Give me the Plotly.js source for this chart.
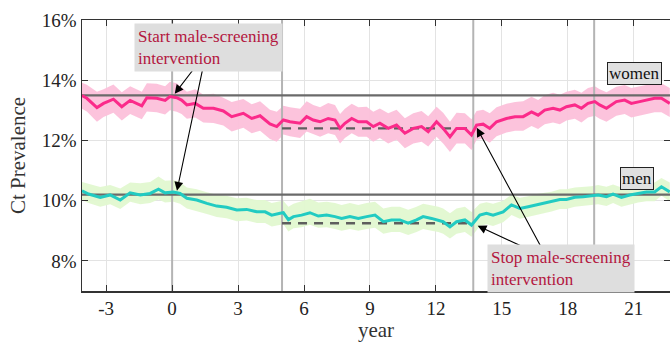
<!DOCTYPE html>
<html><head><meta charset="utf-8">
<script src="https://cdn.plot.ly/plotly-3.0.1.min.js"></script>
<style>html,body{margin:0;padding:0;background:#fff}#chart{width:670px;height:342px}</style>
</head><body><div id="chart"></div>
<script>
// ---- data ----
const womenX = [-4.1,-3.88,-3.42,-3.12,-2.67,-2.29,-1.91,-1.38,-1.15,-0.7,-0.32,-0.1,0.21,0.43,0.67,1.05,1.42,1.88,2.33,2.71,3.24,3.62,4.0,4.45,4.76,5.06,5.36,5.82,6.12,6.42,6.73,7.1,7.41,7.64,7.86,8.17,8.47,8.85,9.15,9.45,9.83,10.21,10.59,10.97,11.35,11.65,12.03,12.33,12.64,12.94,13.32,13.62,13.85,14.15,14.45,14.76,15.21,15.6,15.97,16.35,16.65,16.95,17.33,17.64,17.94,18.32,18.62,18.92,19.23,19.45,19.76,20.21,20.59,20.89,21.27,21.58,21.95,22.26,22.64];
const womenY = [13.49,13.40,13.09,13.23,13.37,13.12,13.33,13.15,13.42,13.40,13.33,13.46,13.42,13.34,13.18,13.23,13.07,13.07,12.98,12.79,12.90,12.73,12.82,12.55,12.46,12.68,12.62,12.57,12.79,12.68,12.62,12.73,12.68,12.40,12.57,12.73,12.62,12.62,12.46,12.57,12.40,12.51,12.24,12.40,12.46,12.29,12.62,12.40,12.12,12.40,12.40,12.18,12.51,12.54,12.40,12.62,12.73,12.79,12.79,12.95,12.84,13.01,13.07,13.01,13.12,13.18,13.07,13.23,13.29,13.18,13.07,13.29,13.34,13.23,13.29,13.34,13.40,13.40,13.23];
const womenHi = [13.92,13.85,13.62,13.70,13.86,13.60,13.80,13.62,13.90,13.88,13.80,13.95,13.90,13.78,13.62,13.70,13.52,13.55,13.42,13.28,13.38,13.20,13.30,13.02,12.95,13.15,13.10,13.05,13.30,13.18,13.10,13.24,13.18,12.88,13.05,13.22,13.10,13.12,12.95,13.06,12.90,13.02,12.74,12.90,12.98,12.80,13.12,12.92,12.62,12.92,12.90,12.70,12.98,13.02,12.90,13.10,13.22,13.28,13.30,13.45,13.34,13.50,13.58,13.52,13.62,13.68,13.58,13.74,13.80,13.70,13.60,13.78,13.84,13.74,13.80,13.84,13.90,13.90,13.74];
const womenLo = [13.05,12.96,12.62,12.78,12.92,12.66,12.88,12.70,12.96,12.94,12.86,13.00,12.95,12.88,12.72,12.76,12.60,12.58,12.50,12.30,12.42,12.24,12.32,12.05,11.96,12.20,12.14,12.08,12.30,12.20,12.12,12.24,12.18,11.90,12.08,12.24,12.12,12.12,11.96,12.08,11.90,12.02,11.74,11.90,11.96,11.80,12.12,11.90,11.62,11.90,11.90,11.68,12.02,12.06,11.92,12.14,12.26,12.32,12.32,12.48,12.38,12.54,12.60,12.54,12.66,12.72,12.60,12.76,12.82,12.72,12.62,12.82,12.88,12.76,12.82,12.88,12.94,12.94,12.78];

const menX = [-4.1,-3.8,-3.27,-2.82,-2.36,-1.91,-1.45,-1.0,-0.62,-0.32,0.06,0.36,0.67,1.12,1.58,2.03,2.48,2.94,3.39,3.85,4.23,4.53,4.91,5.06,5.29,5.52,5.89,6.27,6.65,7.03,7.41,7.71,8.09,8.47,8.85,9.23,9.61,9.98,10.36,10.74,11.12,11.42,11.8,12.11,12.33,12.64,12.94,13.32,13.62,14.0,14.3,14.6,15.06,15.44,15.82,16.2,16.58,16.88,17.26,17.64,17.94,18.32,18.7,19.08,19.38,19.76,20.06,20.44,20.82,21.2,21.58,21.95,22.26,22.64];
const menY = [10.33,10.22,10.11,10.19,10.02,10.26,10.19,10.24,10.38,10.26,10.29,10.24,10.08,10.02,9.91,9.82,9.78,9.69,9.71,9.63,9.63,9.52,9.58,9.60,9.37,9.47,9.52,9.60,9.49,9.52,9.47,9.41,9.47,9.41,9.47,9.52,9.30,9.36,9.36,9.25,9.36,9.47,9.41,9.36,9.30,9.13,9.30,9.36,9.19,9.52,9.58,9.52,9.63,9.86,9.74,9.80,9.86,9.91,9.96,10.04,10.04,10.11,10.13,10.15,10.19,10.13,10.22,10.11,10.19,10.24,10.29,10.29,10.46,10.29];
const menHi = [10.62,10.55,10.45,10.52,10.40,10.60,10.58,10.62,10.80,10.66,10.68,10.62,10.44,10.38,10.28,10.20,10.16,10.08,10.10,10.02,10.02,9.92,9.98,10.00,9.80,9.90,9.98,10.06,9.94,9.96,9.92,9.86,9.92,9.86,9.92,9.96,9.74,9.80,9.80,9.70,9.80,9.90,9.84,9.80,9.74,9.58,9.74,9.80,9.62,9.90,9.95,9.90,10.00,10.20,10.10,10.15,10.22,10.26,10.30,10.38,10.38,10.44,10.46,10.48,10.52,10.46,10.54,10.44,10.52,10.56,10.60,10.60,10.75,10.60];
const menLo = [10.02,9.92,9.80,9.88,9.72,9.96,9.88,9.92,10.04,9.94,9.96,9.90,9.74,9.66,9.56,9.46,9.42,9.32,9.34,9.26,9.26,9.14,9.20,9.22,8.98,9.08,9.12,9.20,9.10,9.12,9.06,9.00,9.06,9.00,9.06,9.10,8.90,8.96,8.96,8.86,8.96,9.06,9.00,8.96,8.90,8.74,8.90,8.96,8.80,9.16,9.22,9.16,9.28,9.52,9.40,9.46,9.52,9.58,9.64,9.72,9.72,9.80,9.82,9.84,9.88,9.82,9.92,9.80,9.88,9.94,9.98,9.98,10.16,9.98];

const baselineWomen = 13.5, baselineMen = 10.2;
const plateauWomen = 12.4, plateauMen = 9.25;
const interventionStart = 0, plateauStart = 5, interventionStop = 13.7, laterMark = 19.2;
const xTickVals = [-3,0,3,6,9,12,15,18,21];
const xTickText = ['-3','0','3','6','9','12','15','18','21'];
const yTickVals = [8,10,12,14,16];
const yTickText = ['8%','10%','12%','14%','16%'];
const xRange = [-4.1, 22.65], yRange = [7, 16];

// ---- traces ----
const FONT = '"Liberation Serif", "DejaVu Serif", serif';
function band(x, lo, hi, color){
  return {x: x.concat(x.slice().reverse()), y: lo.concat(hi.slice().reverse()),
    type:'scatter', mode:'lines', fill:'toself', fillcolor:color, line:{width:0}, hoverinfo:'skip', showlegend:false};
}
const vx = [], vy = [];
[interventionStart, plateauStart, interventionStop, laterMark].forEach(v => { vx.push(v, v, null); vy.push(yRange[0], yRange[1], null); });
const traces = [
  band(womenX, womenLo, womenHi, 'rgba(252,192,218,0.95)'),
  band(menX, menLo, menHi, 'rgba(226,248,208,0.95)'),
  {x: vx, y: vy, type:'scatter', mode:'lines', line:{color:'#b4b4b4', width:2}, showlegend:false},
  {x: xRange, y:[baselineWomen, baselineWomen], type:'scatter', mode:'lines', line:{color:'#6a6a6a', width:2.2}, showlegend:false},
  {x: xRange, y:[baselineMen, baselineMen], type:'scatter', mode:'lines', line:{color:'#6a6a6a', width:2.2}, showlegend:false},
  {x: [plateauStart, interventionStop], y:[plateauWomen, plateauWomen], type:'scatter', mode:'lines', line:{color:'#5e5e5e', width:2.4, dash:'9px,7px'}, showlegend:false},
  {x: [plateauStart, interventionStop], y:[plateauMen, plateauMen], type:'scatter', mode:'lines', line:{color:'#5e5e5e', width:2.4, dash:'9px,7px'}, showlegend:false},
  {x: womenX, y: womenY, type:'scatter', mode:'lines', line:{color:'#fb2a8a', width:3}, name:'women', showlegend:false},
  {x: menX, y: menY, type:'scatter', mode:'lines', line:{color:'#22cbc2', width:3}, name:'men', showlegend:false}
];

const red = '#b3163f';
const arrow = (x, y, ax, ay) => ({x, y, ax, ay, xref:'x', yref:'y', axref:'x', ayref:'y', text:'', showarrow:true,
  arrowhead:2, arrowsize:1.6, arrowwidth:1.1, arrowcolor:'#000'});
const annotations = [
  arrow(0.12, 13.55, 1.05, 14.44),
  arrow(0.22, 10.33, 1.41, 14.44),
  arrow(13.9, 9.17, 16.27, 8.36),
  arrow(13.86, 12.42, 16.86, 8.36),
  {x:1.64, y:15.09, xref:'x', yref:'y', text:'Start male-screening<br>intervention', showarrow:false, align:'left',
   bgcolor:'#dedede', borderpad:3, font:{family:FONT, size:17, color:red}},
  {x:17.68, y:7.74, xref:'x', yref:'y', text:'Stop male-screening<br>intervention', showarrow:false, align:'left',
   bgcolor:'#dedede', borderpad:3, font:{family:FONT, size:17, color:red}},
  {x:21.05, y:14.24, xref:'x', yref:'y', text:'women', showarrow:false, bgcolor:'#e0e0e0', bordercolor:'#222', borderwidth:1, borderpad:1,
   font:{family:FONT, size:17, color:'#111'}},
  {x:21.14, y:10.75, xref:'x', yref:'y', text:'men', showarrow:false, bgcolor:'#e0e0e0', bordercolor:'#222', borderwidth:1, borderpad:1,
   font:{family:FONT, size:17, color:'#111'}}
];

const layout = {
  width:670, height:342, margin:{l:82, r:0, t:20, b:51},
  paper_bgcolor:'#fff', plot_bgcolor:'#fff', showlegend:false,
  font:{family:FONT, color:'#333'},
  xaxis:{range:xRange, tickvals:xTickVals, ticktext:xTickText, ticks:'inside', ticklen:6, tickcolor:'#333',
    showline:true, linecolor:'#333', linewidth:1.5, mirror:'ticks', showgrid:true, gridcolor:'#e3e3e3', gridwidth:1,
    zeroline:false, tickfont:{family:FONT, size:19, color:'#222'},
    title:{text:'year', font:{family:FONT, size:21, color:'#333'}, standoff:6}},
  yaxis:{range:yRange, tickvals:yTickVals, ticktext:yTickText, ticks:'inside', ticklen:6, tickcolor:'#333',
    showline:true, linecolor:'#333', linewidth:1.5, mirror:'ticks', showgrid:true, gridcolor:'#e3e3e3', gridwidth:1,
    zeroline:false, tickfont:{family:FONT, size:19, color:'#222'},
    title:{text:'Ct Prevalence', font:{family:FONT, size:21, color:'#333'}, standoff:10}},
  annotations
};
Plotly.newPlot('chart', traces, layout, {staticPlot:true, displayModeBar:false});
</script></body></html>
